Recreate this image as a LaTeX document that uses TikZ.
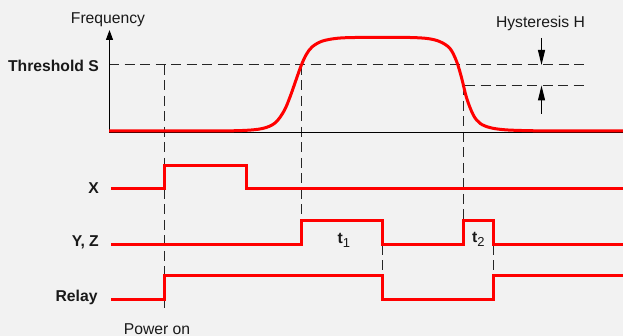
\documentclass[tikz,border=0pt]{standalone}
\usepackage{fontspec}
\setmainfont{Liberation Sans}
\usetikzlibrary{arrows.meta}
\definecolor{bgc}{HTML}{F2F2F2}
\definecolor{sigred}{HTML}{FF0000}
\begin{document}
\begin{tikzpicture}[x=1pt,y=-1pt,
  lbl/.style={font=\fontsize{15.7}{18}\selectfont, inner sep=0pt, text=black!90},
  blbl/.style={lbl, font=\fontsize{15.7}{18}\selectfont\bfseries},
  sig/.style={draw=sigred, line width=3pt, line join=miter},
  guide/.style={draw=black!85, line width=1pt, dash pattern=on 10pt off 5.5pt},
  axis/.style={draw=black, line width=1.2pt},
]
% background and page size
\fill[bgc] (0,0) rectangle (623,336);
\useasboundingbox (0,0) rectangle (623,336);

% instants and levels
\coordinate (pon) at (164,0);
\coordinate (on1) at (301.5,0);
\coordinate (off1) at (382,0);
\coordinate (on2) at (463,0);
\coordinate (off2) at (493,0);
\coordinate (thr) at (0,65);
\coordinate (hyl) at (0,85.5);

% threshold and hysteresis guide lines
\draw[guide] (109,65) -- (588,65);
\draw[guide] (465,85.5) -- (588,85.5);

% vertical guides
\draw[guide] (pon |- thr) -- (164,312);
\draw[guide] (on1 |- thr) -- (301.5,221);
\draw[guide] (on2 |- hyl) -- (463,221);
\draw[guide] (382,245) -- (382,276);
\draw[guide] (493,245) -- (493,276);

% axes
\draw[axis] (109,132.5) -- (623,132.5);
\draw[axis, -{Triangle[length=10pt,width=7pt]}] (109.5,133) -- (109.5,30);

% hysteresis arrows
\draw[axis, -{Triangle[length=15pt,width=7pt]}] (541.5,38) -- (541.5,65);
\draw[axis, -{Triangle[length=15pt,width=7pt]}] (541.5,114) -- (541.5,85.5);

% frequency curve
\draw[sig, line join=round] (109,131) -- (200,131)
  plot[smooth, tension=0.55] coordinates {
    (200,131) (240,130.6) (262,128.6) (275,123) (284,111) (290,97)
    (296,80) (301,66) (306,55) (312,47) (322,41.2) (337,38.3) (355,37.5)
    (380,37.4) (410,37.5) (428,38.6) (440,41.7) (450,48.5) (456.7,61.7)
    (461.7,78.3) (466.7,98.3) (473.3,115) (480,123.3) (490,127.6)
    (505,129.8) (530,130.7) (560,131) }
  -- (623,131);

% switching signals
\draw[sig] (111,189) -- (164,189) -- (164,166) -- (246,166) -- (246,189) -- (623,189);
\draw[sig] (111,245) -- (301.5,245) -- (301.5,221) -- (382,221) -- (382,245)
  -- (463,245) -- (463,221) -- (493,221) -- (493,245) -- (623,245);
\draw[sig] (111,299) -- (164,299) -- (164,276) -- (382,276) -- (382,299)
  -- (493,299) -- (493,276) -- (623,276);

% labels
\node[lbl, anchor=base] (freq) at (108,24) {Frequency};
\node[lbl, anchor=base] (hyst) at (540.5,27.3) {Hysteresis H};
\node[blbl, anchor=base east] (thrS) at (99,71.7) {Threshold S};
\node[blbl, anchor=base east] (labX) at (99,193.3) {X};
\node[blbl, anchor=base east] (labYZ) at (99,246.7) {Y, Z};
\node[blbl, anchor=base east] (labR) at (97.7,301.7) {Relay};
\node[lbl, anchor=base] (pwr) at (157,334) {Power on};
\node[lbl, anchor=base west] (t1) at (337.5,244) {\textbf{t}\raisebox{-4pt}{\fontsize{13}{13}\selectfont 1}};
\node[lbl, anchor=base west] (t2) at (472,243) {\textbf{t}\raisebox{-4pt}{\fontsize{13}{13}\selectfont 2}};
\end{tikzpicture}
\end{document}
